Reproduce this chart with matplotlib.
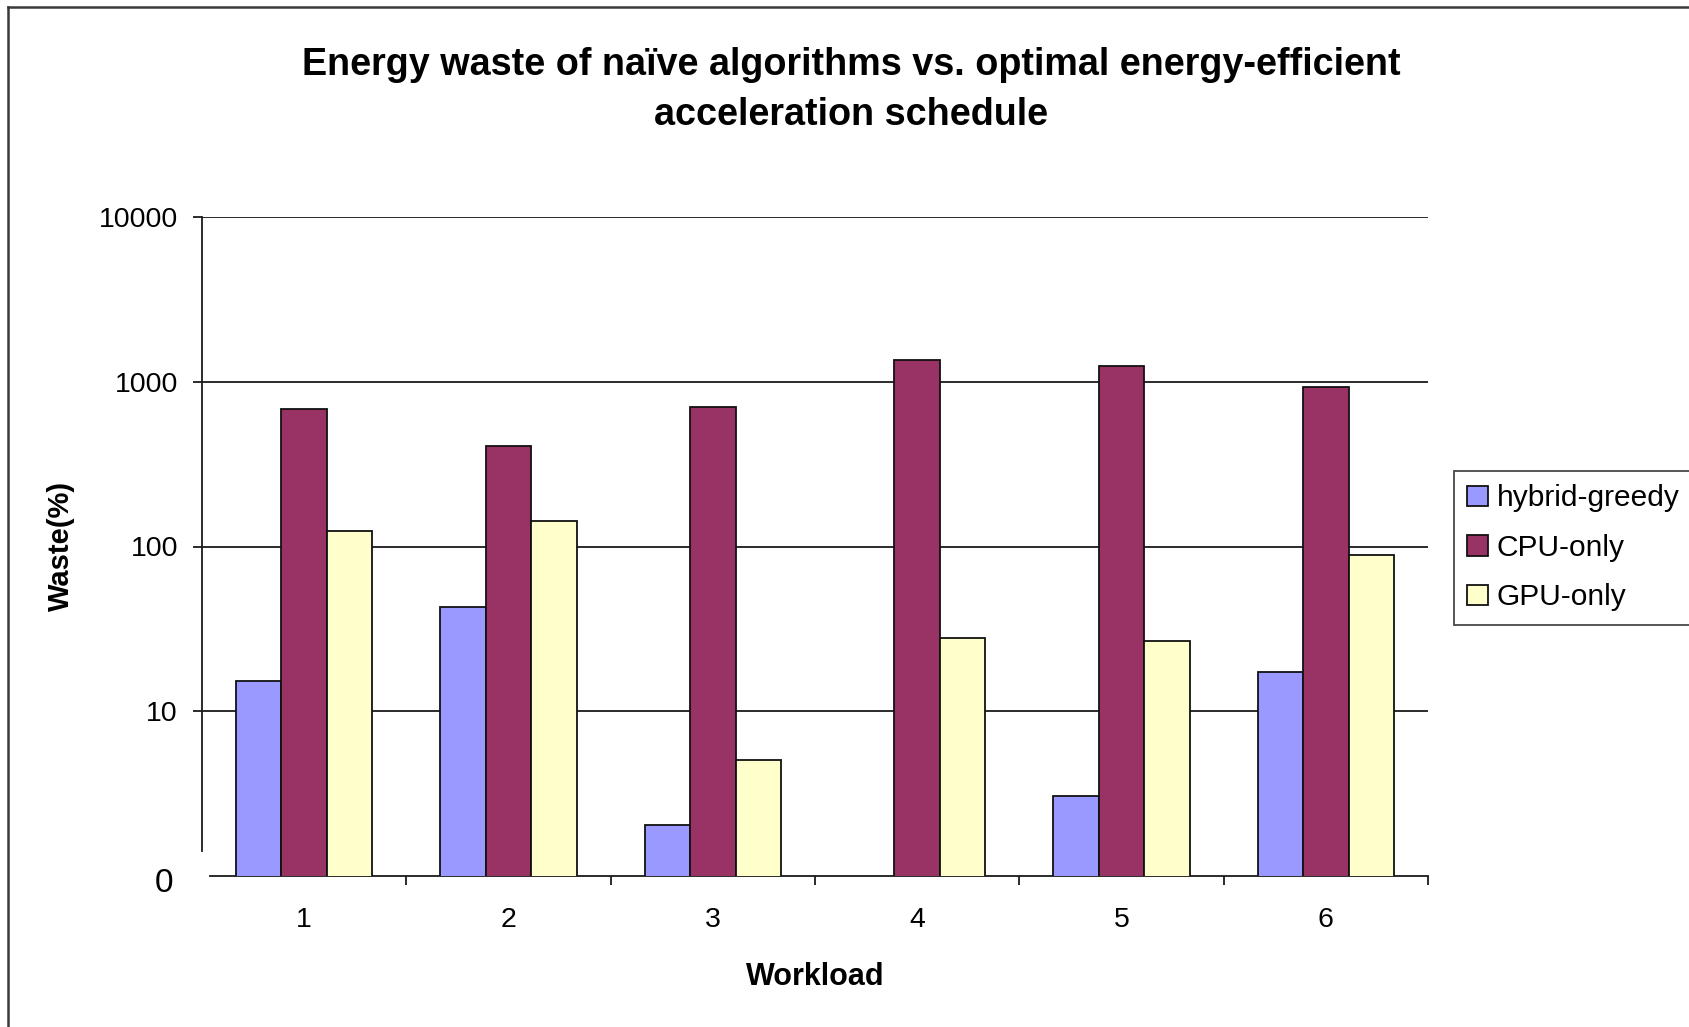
import numpy as np
import matplotlib
matplotlib.use("Agg")
import matplotlib.pyplot as plt
import matplotlib.transforms as mtransforms
from matplotlib.lines import Line2D
from matplotlib.ticker import FixedLocator, NullLocator

plt.rcParams['font.family'] = ['Liberation Sans', 'DejaVu Sans']

# Data
workloads = ["1", "2", "3", "4", "5", "6"]
series_names = ["hybrid-greedy", "CPU-only", "GPU-only"]
hybrid_greedy = [15.2, 43, 2.03, 0, 3.04, 17.2]
cpu_only = [687, 405, 707, 1352, 1253, 927]
gpu_only = [123.5, 143.5, 5.08, 27.8, 26.6, 88.7]
y_ticks = [10, 100, 1000, 10000]
y_tick_labels = ["10", "100", "1000", "10000"]

colors = ["#9999FF", "#993366", "#FFFFCC"]
W, H = 1689, 1027

fig = plt.figure(figsize=(W / 100, H / 100), dpi=100)
fig.patch.set_facecolor("white")

# chart-area frame (left and top edges)
fig.add_artist(Line2D([8 / W, 8 / W], [0, 1 - 7 / H], transform=fig.transFigure,
                      color="#3a3a3a", lw=1.8))
fig.add_artist(Line2D([8 / W, 1], [1 - 7 / H, 1 - 7 / H], transform=fig.transFigure,
                      color="#3a3a3a", lw=1.8))

ax_left, ax_right, ax_top, ax_bottom = 202, 1428, 217, 876
ax = fig.add_axes([ax_left / W, 1 - ax_bottom / H, (ax_right - ax_left) / W,
                   (ax_bottom - ax_top) / H])
ax.set_yscale("log")
ax.set_ylim(1, 10000)
ax.set_xlim(-0.5, 5.5)
cat_px = (ax_right - ax_left) / 6.0

x = np.arange(len(workloads))
bw = 1 / 4.5  # three bars plus a 150% gap per category
for i, (vals, name) in enumerate(zip([hybrid_greedy, cpu_only, gpu_only], series_names)):
    ax.bar(x + (i - 1) * bw, vals, width=bw, color=colors[i], edgecolor="#111111",
           linewidth=1.3, label=name, zorder=3)

# y axis
ax.yaxis.set_major_locator(FixedLocator(y_ticks))
ax.yaxis.set_minor_locator(NullLocator())
ax.set_yticklabels(y_tick_labels)
ax.tick_params(axis="y", which="major", direction="out", length=6.8, width=1.3,
               color="#1a1a1a", labelsize=20.5, pad=10.5)
ax.grid(axis="y", which="major", color="#1a1a1a", lw=1.3, zorder=1)
ax.set_axisbelow(True)

# baseline label of the log axis
zero_tr = mtransforms.offset_copy(ax.get_yaxis_transform(), fig=fig, x=0, y=-5.5,
                                  units="points")
ax.text(-38 / (ax_right - ax_left), 1, "0", fontsize=24, ha="center", va="center",
        transform=zero_tr, clip_on=False)

# x axis: boundary ticks and centered category labels
ax.xaxis.set_major_locator(FixedLocator(np.arange(0.5, 6.0, 1.0)))
ax.xaxis.set_minor_locator(FixedLocator(x))
ax.set_xticklabels([], minor=False)
ax.set_xticklabels(workloads, minor=True)
ax.tick_params(axis="x", which="major", direction="out", length=6.5, width=1.3,
               color="#1a1a1a")
ax.tick_params(axis="x", which="minor", length=0, labelsize=20.5, pad=22)

for s in ["top", "right"]:
    ax.spines[s].set_visible(False)
ax.spines["left"].set_color("#1a1a1a")
ax.spines["left"].set_linewidth(1.3)
ax.spines["left"].set_bounds(10 ** 0.154, 10000)
ax.spines["bottom"].set_color("#1a1a1a")
ax.spines["bottom"].set_linewidth(1.3)
ax.spines["bottom"].set_bounds(-0.5 + 8 / cat_px, 5.5)

# titles
fig.text(851 / W, 1 - 90 / H,
         "Energy waste of naïve algorithms vs. optimal energy-efficient\nacceleration schedule",
         ha="center", va="center", fontsize=27.2, fontweight="bold", linespacing=1.5)
fig.text(815 / W, 1 - 977 / H, "Workload", ha="center", va="center",
         fontsize=22, fontweight="bold")
fig.text(61 / W, 1 - 546 / H, "Waste(%)", ha="center", va="center", rotation=90,
         fontsize=21, fontweight="bold")

leg = ax.legend(loc="upper left", bbox_to_anchor=(1454 / W, 1 - 471 / H),
                bbox_transform=fig.transFigure, fontsize=21.5, frameon=True,
                fancybox=False, borderpad=0.45, borderaxespad=0,
                handlelength=0.68, handleheight=0.68, handletextpad=0.3,
                labelspacing=0.72)
leg.get_frame().set_edgecolor("#1a1a1a")
leg.get_frame().set_linewidth(1.3)

fig.savefig("out.png", dpi=100, facecolor="white")
